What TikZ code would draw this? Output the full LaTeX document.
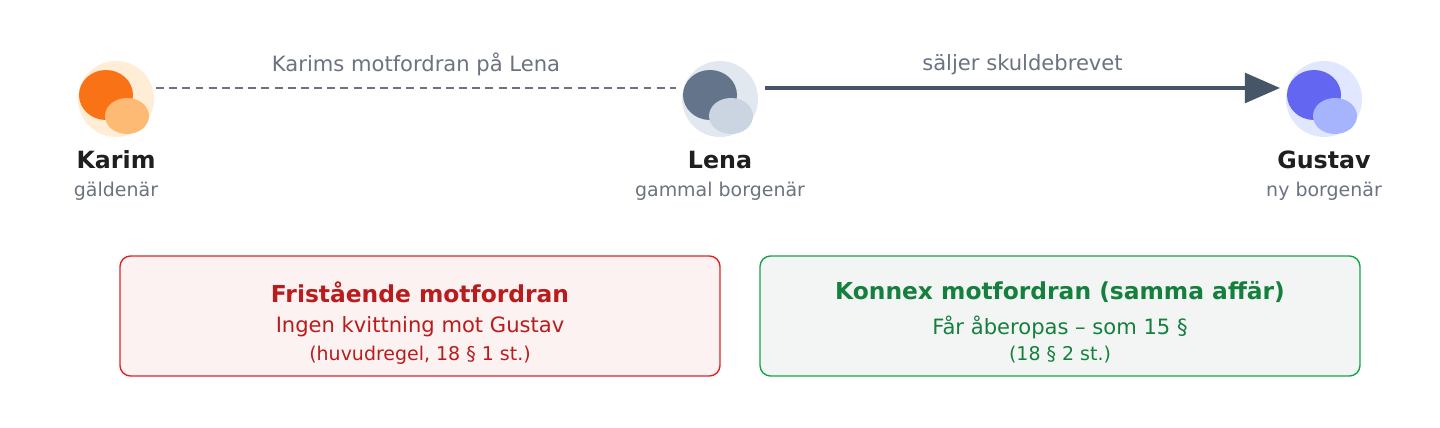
\documentclass[tikz,border=0pt]{standalone}
\usepackage{fontspec}
\setmainfont{DejaVu Sans}
\usetikzlibrary{arrows.meta}
\definecolor{txt}{HTML}{1F1F1F}
\definecolor{sub}{HTML}{6B7280}
\definecolor{arr}{HTML}{475569}
\definecolor{redd}{HTML}{DC2626}
\definecolor{redt}{HTML}{B91C1C}
\definecolor{redf}{HTML}{FDF2F2}
\definecolor{grnd}{HTML}{16A34A}
\definecolor{grnt}{HTML}{15803D}
\definecolor{grnf}{HTML}{F3F5F4}
\begin{document}
\begin{tikzpicture}[x=0.02cm, y=-0.02cm,
    namn/.style={font=\fontsize{13.5}{16}\selectfont\bfseries, text=txt},
    roll/.style={font=\fontsize{10.8}{13}\selectfont, text=sub},
    ruta/.style={rounded corners=6pt, line width=0.8pt, minimum width=600*0.02cm, minimum height=120*0.02cm}]
    \useasboundingbox (0,0) rectangle (1440,428);
    % personer
    \foreach \nm/\x/\c/\d/\l in {karim/116/FFEDD5/F97316/FDBA74, lena/720/E2E8F0/64748B/CBD5E1, gustav/1324/E0E7FF/6366F1/A5B4FC}{
        \definecolor{c1}{HTML}{\c}\definecolor{c2}{HTML}{\d}\definecolor{c3}{HTML}{\l}
        \fill[c1] (\x,99) circle (38);
        \fill[c2] (\x-10,95) ellipse (27 and 25);
        \fill[c3] (\x+11,116) ellipse (22 and 18);
        \coordinate (\nm) at (\x,99);
    }
    \node[namn] (kn) at (116,160) {Karim};
    \node[roll] (kr) at (116,191) {gäldenär};
    \node[namn] (ln) at (720,160) {Lena};
    \node[roll] (lr) at (720,191) {gammal borgenär};
    \node[namn] (gn) at (1324,160) {Gustav};
    \node[roll] (gr) at (1324,191) {ny borgenär};
    \coordinate (k1) at (156,88); \coordinate (l1) at (676,88);
    \coordinate (l2) at (765,88); \coordinate (g1) at (1280,88);
    \draw[sub, line width=1.4pt, dash pattern=on 4.5pt off 3pt] (k1) -- node[above=3pt, roll, font=\fontsize{12}{14}\selectfont] {Karims motfordran på Lena} (l1);
    \draw[arr, line width=1.9pt, -{Triangle[length=20pt, width=17pt]}] (l2) -- node[above=3pt, roll, font=\fontsize{12}{14}\selectfont] {säljer skuldebrevet} (g1);
    % rutor
    \node[ruta, draw=redd, fill=redf] (fri) at (420,316) {};
    \node[font=\fontsize{13.3}{16}\selectfont\bfseries, text=redt] at (420,292) {Fristående motfordran};
    \node[font=\fontsize{12}{14}\selectfont, text=redt] at (420,327) {Ingen kvittning mot Gustav};
    \node[font=\fontsize{10.8}{13}\selectfont, text=redt] at (420,355) {(huvudregel, 18 § 1 st.)};
    \node[ruta, draw=grnd, fill=grnf] (kon) at (1060,316) {};
    \node[font=\fontsize{13.3}{16}\selectfont\bfseries, text=grnt] at (1060,292) {Konnex motfordran (samma affär)};
    \node[font=\fontsize{12}{14}\selectfont, text=grnt] at (1060,327) {Får åberopas – som 15 §};
    \node[font=\fontsize{10.8}{13}\selectfont, text=grnt] at (1060,355) {(18 § 2 st.)};
\end{tikzpicture}
\end{document}
